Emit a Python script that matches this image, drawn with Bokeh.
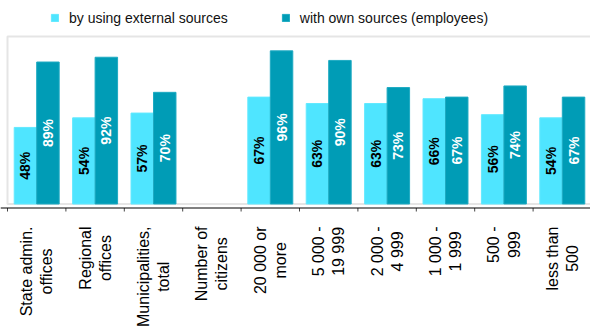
import math
from bokeh.plotting import figure
from bokeh.models import ColumnDataSource, Range1d, Span, BoxAnnotation
from bokeh.core.properties import value
from bokeh.embed import file_html
from bokeh.resources import INLINE

# ---- data ----
categories = ["State admin.\noffices", "Regional\noffices", "Municipalities,\ntotal",
              "Number of\ncitizens", "20 000 or\nmore", "5 000 -\n19 999",
              "2 000 -\n4 999", "1 000 -\n1 999", "500 -\n999", "less than\n500"]
external = [48, 54, 57, None, 67, 63, 63, 66, 56, 54]
own = [89, 92, 70, None, 96, 90, 73, 67, 74, 67]
series_names = ["by using external sources", "with own sources (employees)"]
y_max = 105

# ---- style / geometry (pixels) ----
FONT = "Liberation Sans"
C_EXT = "#4FE5FF"
C_OWN = "#009CB6"
BW = 0.385
CAT_FS = 16
LINE_STEP = 20
W, H = 590, 327
PL, PR, PT, PB = 7, 591, 36, 203.5   # plot area inside the canvas
AXIS_Y = 207.5                        # category axis line (below plot area)
LABEL_TOP = 226
LEG_CY = 17.5
LEG_H = 18

# Arial / Liberation Sans advance widths (1/1000 em) for centring wrapped lines
ADV = {' ': 278, ',': 278, '-': 333, '.': 278, 'M': 833, 'N': 722, 'R': 722,
       'S': 667, 'a': 556, 'b': 556, 'c': 500, 'd': 556, 'e': 556, 'f': 278,
       'g': 556, 'h': 556, 'i': 222, 'l': 222, 'm': 833, 'n': 556, 'o': 556,
       'p': 556, 'r': 333, 's': 500, 't': 278, 'u': 556, 'z': 500}


def text_w(s, size):
    return sum(ADV.get(ch, 556) for ch in s) * size / 1000.0


n = len(categories)
centers = [i + 0.5 for i in range(n)]


def make_src(vals, shift):
    return ColumnDataSource(dict(
        x=[c + shift for c in centers],
        top=[float("nan") if v is None else v for v in vals],
        mid=[float("nan") if v is None else v / 2 for v in vals],
        label=["" if v is None else f"{v}%" for v in vals],
    ))


src_ext = make_src(external, -BW / 2)
src_own = make_src(own, BW / 2)

# the frame covers the whole canvas; ranges map the plot area onto its pixels
ux = n / (PR - PL)
uy = y_max / (PB - PT)
x_range = Range1d(-PL * ux, n + (W - PR) * ux)
y_range = Range1d(-(H - PB) * uy, y_max + PT * uy)

p = figure(width=W, height=H, output_backend="svg", toolbar_location=None,
           x_range=x_range, y_range=y_range,
           x_axis_location=None, y_axis_location=None,
           min_border_left=0, min_border_right=0, min_border_top=0, min_border_bottom=0)
p.extra_y_ranges = {"px": Range1d(H, 0)}    # canvas pixel rows, downward
p.grid.visible = False
p.outline_line_color = None
p.background_fill_color = "white"
p.border_fill_color = "white"

# plot-area border (gray)
p.add_layout(BoxAnnotation(left=0, right=n, bottom=0, top=y_max, fill_alpha=0,
                           line_color="#a8a8a8", line_width=2, level="underlay"))

p.vbar(x="x", top="top", width=BW, source=src_ext, fill_color=C_EXT,
       line_color="#62e9ff", line_width=1, legend_label=series_names[0])
p.vbar(x="x", top="top", width=BW, source=src_own, fill_color=C_OWN,
       line_color="#1eaac2", line_width=1, legend_label=series_names[1])

p.text(x="x", y="mid", text="label", source=src_ext, angle=math.pi / 2,
       text_align="center", text_baseline="middle", text_font=value(FONT),
       text_font_style="bold", text_font_size="14px", text_color="black")
p.text(x="x", y="mid", text="label", source=src_own, angle=math.pi / 2,
       text_align="center", text_baseline="middle", text_font=value(FONT),
       text_font_style="bold", text_font_size="14px", text_color="white")

# category axis: line + ticks at category boundaries
p.add_layout(Span(location=AXIS_Y, dimension="width", y_range_name="px",
                  line_color="black", line_width=1))
bounds = list(range(n + 1))
p.segment(x0=bounds, x1=bounds, y0=[AXIS_Y] * len(bounds), y1=[AXIS_Y + 3.5] * len(bounds),
          y_range_name="px", line_color="#444444", line_width=1)

# category labels: rotated, wrapped lines centred on each other, block top aligned
lx, ly, lo, lt = [], [], [], []
for c, cat in zip(centers, categories):
    lines = cat.split("\n")
    maxw = max(text_w(s, CAT_FS) for s in lines)
    for j, s in enumerate(lines):
        lx.append(c)
        ly.append(LABEL_TOP + maxw / 2)
        lo.append((j - (len(lines) - 1) / 2) * LINE_STEP)
        lt.append(s)
p.text(x=lx, y=ly, x_offset=lo, text=lt, y_range_name="px", angle=math.pi / 2,
       text_align="center", text_baseline="middle", text_font=value(FONT),
       text_font_size=f"{CAT_FS}px", text_color="black")

lg = p.legend[0]
lg.orientation = "horizontal"
lg.location = (50, H - LEG_CY - LEG_H / 2)
lg.padding = 0
lg.margin = 0
lg.spacing = 53
lg.label_standoff = 10
lg.label_height = LEG_H
lg.glyph_width = 9
lg.glyph_height = 9
lg.label_text_font = FONT
lg.label_text_font_size = "14px"
lg.label_text_color = "#111111"
lg.border_line_color = None
lg.background_fill_alpha = 0

open("out.html", "w").write(file_html(p, INLINE))
